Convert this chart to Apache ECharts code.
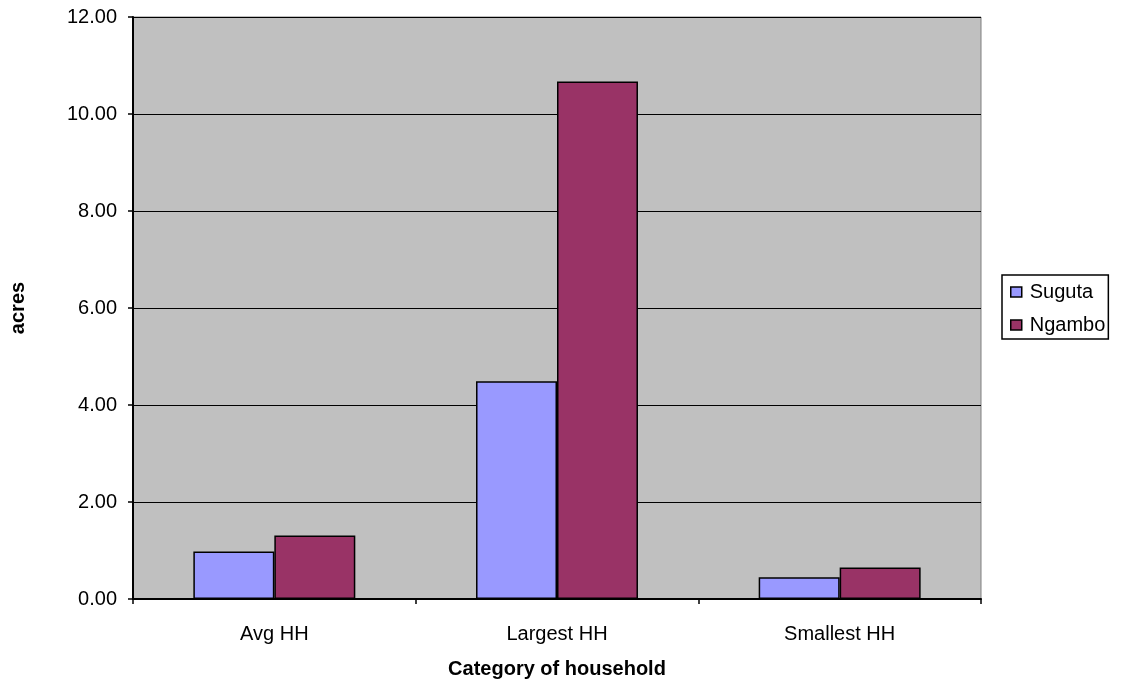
<!DOCTYPE html>
<html>
<head>
<meta charset="utf-8">
<script src="https://cdn.jsdelivr.net/npm/echarts@6/dist/echarts.min.js"></script>
<style>
  html, body { margin: 0; padding: 0; background: #fff; }
  #chart { width: 1122px; height: 683px; }
</style>
</head>
<body>
<div id="chart"></div>
<script>
// Land holding per household category, in acres
const categories = ['Avg HH', 'Largest HH', 'Smallest HH'];
const suguta = [0.98, 4.49, 0.45];
const ngambo = [1.31, 10.67, 0.65];
const seriesNames = ['Suguta', 'Ngambo'];
const colors = ['#9999FF', '#993366'];

const font = 'Liberation Sans, Arial, sans-serif';
const chart = echarts.init(document.getElementById('chart'));

chart.setOption({
  animation: false,
  textStyle: { fontFamily: font, color: '#000' },
  grid: {
    left: 133, top: 17, right: 141, bottom: 84,
    containLabel: false,
    outerBoundsMode: 'none',
    show: true, backgroundColor: '#C0C0C0', borderColor: '#808080', borderWidth: 1
  },
  legend: {
    orient: 'vertical',
    left: 1002, top: 275,
    padding: [7, 3, 4, 8],
    itemGap: 13,
    itemWidth: 11, itemHeight: 10,
    borderColor: '#000', borderWidth: 1.5,
    backgroundColor: '#fff',
    textStyle: { fontSize: 20, fontFamily: font, color: '#000', padding: [0, 0, 0, 3] },
    data: seriesNames.map(n => ({ name: n, icon: 'rect', itemStyle: { borderColor: '#000', borderWidth: 1.5 } }))
  },
  xAxis: {
    type: 'category',
    data: categories,
    name: 'Category of household',
    nameLocation: 'middle',
    nameGap: 60,
    nameTextStyle: { fontSize: 20, fontWeight: 'bold', fontFamily: font, color: '#000' },
    axisLine: { lineStyle: { color: '#000', width: 2 } },
    axisTick: { show: true, length: 5, lineStyle: { color: '#000', width: 1.5 } },
    axisLabel: { fontSize: 20, color: '#000', margin: 25, fontFamily: font }
  },
  yAxis: {
    type: 'value',
    min: 0, max: 12, interval: 2,
    name: 'acres',
    nameLocation: 'middle',
    nameRotate: 90,
    nameGap: 105,
    nameTextStyle: { fontSize: 20, fontWeight: 'bold', fontFamily: font, color: '#000' },
    axisLine: { show: true, lineStyle: { color: '#000', width: 2 } },
    axisTick: { show: true, length: 5, lineStyle: { color: '#000', width: 1.5 } },
    axisLabel: { fontSize: 20, color: '#000', margin: 16, fontFamily: font,
      formatter: v => v.toFixed(2) },
    splitLine: { show: true, lineStyle: { color: '#000', width: 1 } }
  },
  series: [
    {
      name: seriesNames[0], type: 'bar', data: suguta,
      barGap: '0%', barCategoryGap: '42.7%',
      itemStyle: { color: colors[0], borderColor: '#000', borderWidth: 1.5 }
    },
    {
      name: seriesNames[1], type: 'bar', data: ngambo,
      barGap: '0%', barCategoryGap: '42.7%',
      itemStyle: { color: colors[1], borderColor: '#000', borderWidth: 1.5 }
    }
  ]
});
</script>
</body>
</html>
